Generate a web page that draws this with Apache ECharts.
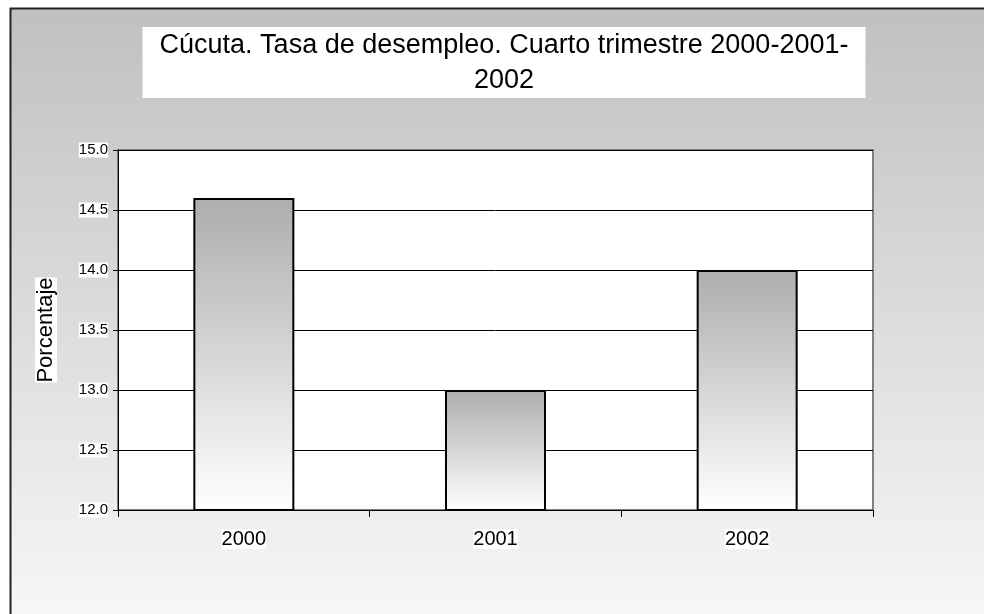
<!DOCTYPE html>
<html>
<head>
<meta charset="utf-8">
<script src="https://cdn.jsdelivr.net/npm/echarts@6/dist/echarts.min.js"></script>
<style>
  html, body { margin: 0; padding: 0; background: #fff; }
  #chart { width: 984px; height: 614px; }
</style>
</head>
<body>
<div id="chart"></div>
<script>
var years = ['2000', '2001', '2002'];
var tasa = [14.6, 13.0, 14.0];

var myChart = echarts.init(document.getElementById('chart'));

var option = {
    animation: false,
    textStyle: { fontFamily: 'Liberation Sans, Arial, sans-serif' },
    graphic: [
        {
            // fondo del area del grafico
            type: 'rect',
            z: -10,
            shape: { x: 10.5, y: 8.5, width: 1000, height: 700 },
            style: {
                fill: new echarts.graphic.LinearGradient(0, 0, 0, 1, [
                    { offset: 0, color: '#c0c0c0' },
                    { offset: 1, color: '#ffffff' }
                ]),
                stroke: '#222',
                lineWidth: 2
            }
        }
    ],
    title: {
        text: 'Cúcuta. Tasa de desempleo. Cuarto trimestre 2000-2001-\n2002',
        left: 487,
        top: 27,
        textAlign: 'center',
        backgroundColor: '#fff',
        padding: [1, 17, 0, 17],
        textStyle: {
            fontFamily: 'Liberation Sans, Arial, sans-serif',
            fontSize: 27,
            fontWeight: 'normal',
            color: '#000',
            lineHeight: 35,
            align: 'center'
        }
    },
    grid: {
        left: 118,
        right: 111,
        top: 150,
        bottom: 104,
        show: true,
        backgroundColor: '#fff',
        borderColor: '#808080',
        borderWidth: 2
    },
    xAxis: {
        type: 'category',
        data: years,
        axisLine: { lineStyle: { color: '#000', width: 1 } },
        axisTick: { show: true, length: 7, lineStyle: { color: '#000' } },
        axisLabel: { color: '#000', fontSize: 20, margin: 19, backgroundColor: '#fff' }
    },
    yAxis: {
        type: 'value',
        min: 12,
        max: 15,
        interval: 0.5,
        name: 'Porcentaje',
        nameLocation: 'middle',
        nameRotate: 90,
        nameGap: 61,
        nameMoveOverlap: false,
        nameTextStyle: { color: '#000', fontSize: 22, backgroundColor: '#fff' },
        axisLine: { show: true, lineStyle: { color: '#000', width: 1 } },
        axisTick: { show: true, length: 5, lineStyle: { color: '#000' } },
        axisLabel: {
            color: '#000',
            fontSize: 15,
            margin: 10,
            backgroundColor: '#fff',
            formatter: function (v) { return v.toFixed(1); }
        },
        splitLine: { lineStyle: { color: '#000', width: 1 } }
    },
    series: [
        {
            type: 'bar',
            data: tasa,
            barWidth: 101,
            itemStyle: {
                color: new echarts.graphic.LinearGradient(0, 0, 0, 1, [
                    { offset: 0, color: '#adadad' },
                    { offset: 1, color: '#ffffff' }
                ]),
                borderColor: '#000',
                borderWidth: 2
            }
        }
    ]
};

myChart.setOption(option);
</script>
</body>
</html>
